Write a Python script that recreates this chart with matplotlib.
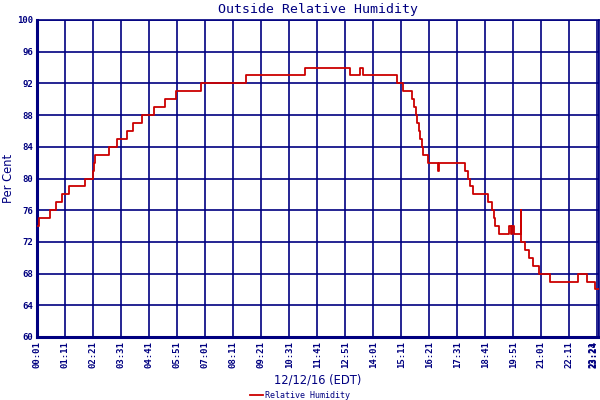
import matplotlib
matplotlib.use("Agg")
import matplotlib.pyplot as plt

# Step-change points: clock time (HH:MM) and relative humidity (%)
times = ["00:03", "00:06", "00:34", "00:48", "01:03", "01:21", "02:02", "02:20",
         "02:23", "02:26", "02:31", "03:00", "03:20", "03:45", "04:00", "04:24",
         "04:53", "05:21", "05:48", "06:51", "08:43", "11:10", "13:04", "13:29",
         "13:35", "15:00", "15:16", "15:39", "15:43", "15:49", "15:51", "15:56",
         "15:59", "16:03", "16:06", "16:18", "16:42", "16:45", "17:49", "17:58",
         "18:02", "18:11", "18:47", "18:58", "19:02", "19:05", "19:14", "19:41",
         "19:45", "19:48", "19:53", "20:09", "20:10", "20:20", "20:29", "20:39",
         "20:54", "21:23", "22:33", "22:56", "23:14", "23:25"]
humidity = [74, 75, 76, 77, 78, 79, 80, 81,
            82, 83, 83, 84, 85, 86, 87, 88,
            89, 90, 91, 92, 93, 94, 93, 94,
            93, 92, 91, 90, 89, 88, 87, 86,
            85, 84, 83, 82, 81, 82, 81, 80,
            79, 78, 77, 76, 75, 74, 73, 74,
            73, 74, 73, 76, 72, 71, 70, 69,
            68, 67, 68, 67, 66, 66]

tick_labels = ["00:01", "01:11", "02:21", "03:31", "04:41", "05:51", "07:01",
               "08:11", "09:21", "10:31", "11:41", "12:51", "14:01", "15:11",
               "16:21", "17:31", "18:41", "19:51", "21:01", "22:11", "23:21",
               "23:24"]
y_ticks = [60, 64, 68, 72, 76, 80, 84, 88, 92, 96, 100]

def to_min(s):
    h, m = s.split(":")
    return int(h) * 60 + int(m)

x = [to_min(t) for t in times]
xt = [to_min(t) for t in tick_labels]

NAVY = "#000080"
RED = "#cc0000"

fig = plt.figure(figsize=(6, 4), dpi=100)
ax = fig.add_axes([37 / 600, 63 / 400, 562 / 600, 317 / 400])

ax.plot(x, humidity, drawstyle="steps-post", color=RED, lw=1.3,
        label="Relative Humidity", zorder=3)

ax.set_xlim(to_min("00:01"), to_min("23:25"))
ax.set_ylim(60, 100)
ax.set_xticks(xt)
ax.set_xticklabels(tick_labels, rotation=90, family="DejaVu Sans Mono",
                   fontsize=6.5, fontweight="bold", color=NAVY)
for lbl in ax.get_xticklabels()[-2:]:
    lbl.set_ha("right")
ax.set_yticks(y_ticks)
ax.set_yticklabels([str(v) for v in y_ticks], family="DejaVu Sans Mono",
                   fontsize=6.5, fontweight="bold", color=NAVY)
ax.tick_params(length=0, pad=3)
ax.grid(True, color=NAVY, lw=1.2, zorder=1)
ax.set_axisbelow(True)
for side, sp in ax.spines.items():
    sp.set_color(NAVY)
    sp.set_linewidth(1.2)
ax.spines["left"].set_linewidth(2.2)
ax.spines["bottom"].set_linewidth(2.2)

fig.text(318 / 600, 1 - 9 / 400, "Outside Relative Humidity", ha="center",
         va="center", family="DejaVu Sans Mono", fontsize=9.5, color=NAVY)
fig.text(9 / 600, 1 - 178 / 400, "Per Cent", rotation=90, ha="center",
         va="center", family="DejaVu Sans", fontsize=8.3, color=NAVY)
fig.text(318 / 600, 1 - 380 / 400, "12/12/16 (EDT)", ha="center",
         va="center", family="DejaVu Sans", fontsize=8.3, color=NAVY)

leg = fig.legend(loc="center", bbox_to_anchor=(300 / 600, 1 - 395 / 400),
                 frameon=False, prop={"family": "DejaVu Sans Mono", "size": 6},
                 handlelength=1.6, handletextpad=0.3, borderpad=0)
for t in leg.get_texts():
    t.set_color(NAVY)

fig.savefig("out.png", dpi=100, facecolor="white")
